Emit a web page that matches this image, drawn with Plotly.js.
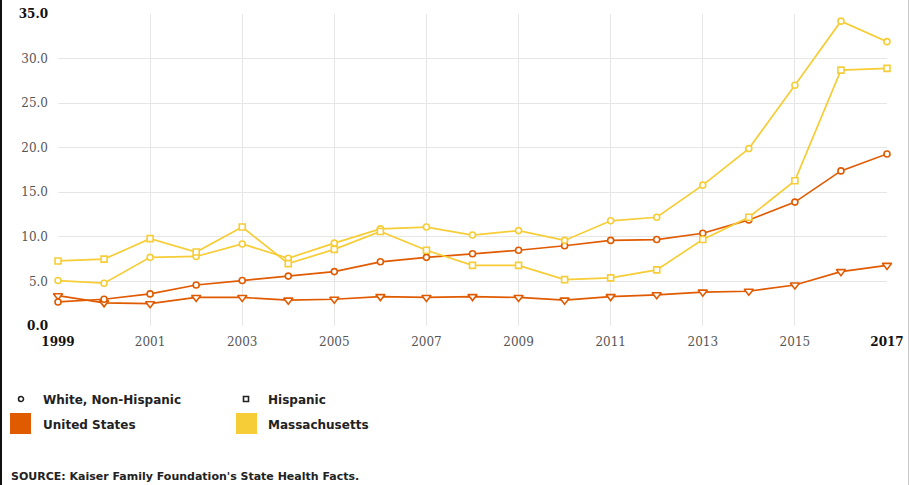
<!DOCTYPE html>
<html>
<head>
<meta charset="utf-8">
<script src="https://cdn.plot.ly/plotly-3.0.1.min.js"></script>
<style>
  html, body { margin: 0; padding: 0; background: #fff; }
  #wrap { position: relative; width: 909px; height: 485px; overflow: hidden; }
  #chart { width: 909px; height: 485px; }
  #bl { position: absolute; left: 0; top: 0; width: 2px; height: 485px; background: #111; }
  #br { position: absolute; right: 0; top: 0; width: 1px; height: 485px; background: #c8c8c8; }
</style>
</head>
<body>
<div id="wrap"><div id="chart"></div><div id="bl"></div><div id="br"></div></div>
<script>
// ---- data ----
var years = [1999, 2000, 2001, 2002, 2003, 2004, 2005, 2006, 2007, 2008, 2009, 2010, 2011, 2012, 2013, 2014, 2015, 2016, 2017];
var usWhite    = [2.7, 3.0, 3.6, 4.6, 5.1, 5.6, 6.1, 7.2, 7.7, 8.1, 8.5, 9.0, 9.6, 9.7, 10.4, 11.9, 13.9, 17.4, 19.3];
var usHispanic = [3.4, 2.6, 2.5, 3.2, 3.2, 2.9, 3.0, 3.3, 3.2, 3.3, 3.2, 2.9, 3.3, 3.5, 3.8, 3.9, 4.6, 6.1, 6.8];
var maWhite    = [5.1, 4.8, 7.7, 7.8, 9.2, 7.6, 9.3, 10.9, 11.1, 10.2, 10.7, 9.6, 11.8, 12.2, 15.8, 19.9, 27.0, 34.2, 31.9];
var maHispanic = [7.3, 7.5, 9.8, 8.3, 11.1, 7.0, 8.6, 10.6, 8.5, 6.8, 6.8, 5.2, 5.4, 6.3, 9.7, 12.2, 16.3, 28.7, 28.9];
var xTickVals = [1999, 2001, 2003, 2005, 2007, 2009, 2011, 2013, 2015, 2017];
var yTickVals = [0, 5, 10, 15, 20, 25, 30, 35];
var groupNames = ["White, Non-Hispanic", "Hispanic"];
var regionNames = ["United States", "Massachusetts"];
var sourceText = "SOURCE: Kaiser Family Foundation's State Health Facts.";

// ---- styles ----
var ORANGE = "#e05a00";
var YELLOW = "#f6cd36";
var W = 909, H = 485;
var M = { l: 58, r: 22, t: 14, b: 159 };
var pw = W - M.l - M.r, ph = H - M.t - M.b;
function px(x) { return (x - M.l) / pw; }
function py(y) { return (H - M.b - y) / ph; }

function series(y, color, symbol, size, name) {
  return {
    x: years, y: y, type: "scatter", mode: "lines+markers", name: name,
    line: { color: color, width: 1.7 },
    marker: { symbol: symbol, size: size, color: "#fff", line: { color: color, width: 1.6 } },
    cliponaxis: false, showlegend: false, hoverinfo: "x+y"
  };
}

var traces = [
  series(usHispanic, ORANGE, "triangle-down", 8, regionNames[0] + " - " + groupNames[1]),
  series(usWhite, ORANGE, "circle", 6, regionNames[0] + " - " + groupNames[0]),
  series(maWhite, YELLOW, "circle", 6, regionNames[1] + " - " + groupNames[0]),
  series(maHispanic, YELLOW, "square", 6, regionNames[1] + " - " + groupNames[1])
];

function tickLabel(v, i, arr, fmt) {
  var s = fmt(v);
  if (i === 0 || i === arr.length - 1) return '<b><span style="color:#111">' + s + '</span></b>';
  return s;
}

var layout = {
  width: W, height: H,
  margin: M,
  paper_bgcolor: "#fff", plot_bgcolor: "#fff",
  showlegend: false,
  font: { family: "DejaVu Serif", size: 12, color: "#555" },
  xaxis: {
    range: [1999, 2017], tickmode: "array", tickvals: xTickVals,
    ticktext: xTickVals.map(function (v, i, a) { return tickLabel(v, i, a, String); }),
    showgrid: true, gridcolor: "#e6e6e6", gridwidth: 1,
    zeroline: false, showline: false, ticks: "", fixedrange: true, ticklabelstandoff: 7,
    tickfont: { family: "DejaVu Serif", size: 12, color: "#555" }
  },
  yaxis: {
    range: [0, 35], tickmode: "array", tickvals: yTickVals,
    ticktext: yTickVals.map(function (v, i, a) { return tickLabel(v, i, a, function (x) { return x.toFixed(1); }); }),
    showgrid: true, gridcolor: "#e6e6e6", gridwidth: 1,
    zeroline: false, showline: false, ticks: "", fixedrange: true, ticklabelstandoff: 9,
    tickfont: { family: "DejaVu Serif", size: 12, color: "#555" }
  },
  shapes: [
    { type: "circle", xref: "paper", yref: "paper", x0: px(18.5), x1: px(23.5), y0: py(401.5), y1: py(396.5), line: { color: "#222", width: 1.6 }, fillcolor: "#fff" },
    { type: "rect", xref: "paper", yref: "paper", x0: px(243.5), x1: px(248.5), y0: py(401.5), y1: py(396.5), line: { color: "#222", width: 1.6 }, fillcolor: "#fff" },
    { type: "rect", xref: "paper", yref: "paper", x0: px(10), x1: px(31), y0: py(434), y1: py(413), line: { width: 0 }, fillcolor: ORANGE },
    { type: "rect", xref: "paper", yref: "paper", x0: px(236), x1: px(257), y0: py(434), y1: py(413), line: { width: 0 }, fillcolor: YELLOW }
  ],
  annotations: [
    { text: "<b>" + groupNames[0] + "</b>", x: px(41), y: py(399.5) },
    { text: "<b>" + groupNames[1] + "</b>", x: px(266), y: py(399.5) },
    { text: "<b>" + regionNames[0] + "</b>", x: px(41), y: py(424.5) },
    { text: "<b>" + regionNames[1] + "</b>", x: px(266), y: py(424.5) },
    { text: "<b>" + sourceText + "</b>", x: px(9), y: py(476), size: 11 }
  ].map(function (a) {
    return {
      text: a.text, x: a.x, y: a.y, xref: "paper", yref: "paper",
      xanchor: "left", yanchor: "middle", showarrow: false,
      font: { family: "DejaVu Sans", size: a.size || 12, color: "#222" }
    };
  })
};

Plotly.newPlot("chart", traces, layout, { displayModeBar: false, staticPlot: true });
</script>
</body>
</html>
